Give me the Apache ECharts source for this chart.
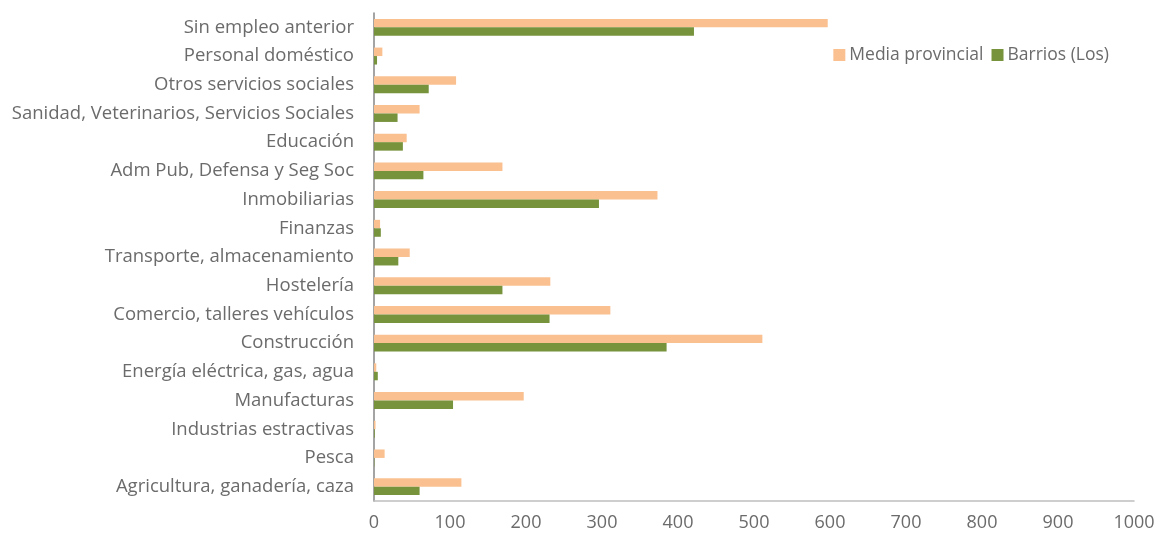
<!DOCTYPE html>
<html>
<head>
<meta charset="utf-8">
<script src="https://cdn.jsdelivr.net/npm/echarts@6/dist/echarts.min.js"></script>
<style>html,body{margin:0;padding:0;background:#fff}#c{width:1164px;height:539px}</style>
</head>
<body>
<div id="c"></div>
<script>
const categories = [
  "Agricultura, ganadería, caza",
  "Pesca",
  "Industrias estractivas",
  "Manufacturas",
  "Energía eléctrica, gas, agua",
  "Construcción",
  "Comercio, talleres vehículos",
  "Hostelería",
  "Transporte, almacenamiento",
  "Finanzas",
  "Inmobiliarias",
  "Adm Pub, Defensa y Seg Soc",
  "Educación",
  "Sanidad, Veterinarios, Servicios Sociales",
  "Otros servicios sociales",
  "Personal doméstico",
  "Sin empleo anterior"
];
const mediaProvincial = [115, 14, 2, 197, 3, 511, 311, 232, 47, 8, 373, 169, 43, 60, 108, 11, 597];
const barrios = [60, 0.5, 1, 104, 5, 385, 231, 169, 32, 9, 296, 65, 38, 31, 72, 4, 421];
const xTicks = [0, 100, 200, 300, 400, 500, 600, 700, 800, 900, 1000];

const chart = echarts.init(document.getElementById('c'));
const font = '"Open Sans", "Noto Sans", sans-serif';
chart.setOption({
  animation: false,
  grid: { left: 374, right: 30, top: 13, bottom: 38, containLabel: false },
  legend: {
    data: ['Media provincial', 'Barrios (Los)'],
    right: 50, top: 41,
    itemWidth: 12, itemHeight: 12, itemGap: 8,
    icon: 'rect',
    textStyle: { color: '#6b6b6b', fontSize: 17.5, fontFamily: font, padding: [0, 0, 0, -1] }
  },
  xAxis: {
    type: 'value', min: xTicks[0], max: xTicks[xTicks.length - 1], interval: 100,
    axisLine: { show: true, lineStyle: { color: '#BFBFBF', width: 1.5 } },
    axisTick: { show: false },
    splitLine: { show: false },
    axisLabel: { color: '#6b6b6b', fontSize: 18, fontFamily: font, margin: 13,
      formatter: v => String(v) }
  },
  yAxis: {
    type: 'category', data: categories,
    axisLine: { show: true, lineStyle: { color: '#868686', width: 1.5 } },
    axisTick: { show: false },
    axisLabel: { color: '#6b6b6b', fontSize: 18.5, fontFamily: font, margin: 20 }
  },
  series: [
    { name: 'Media provincial', type: 'bar', data: mediaProvincial, barGap: '0%', barCategoryGap: '41%',
      itemStyle: { color: '#FAC090' } },
    { name: 'Barrios (Los)', type: 'bar', data: barrios, barGap: '0%', barCategoryGap: '41%',
      itemStyle: { color: '#77933C' } }
  ]
});
</script>
</body>
</html>
